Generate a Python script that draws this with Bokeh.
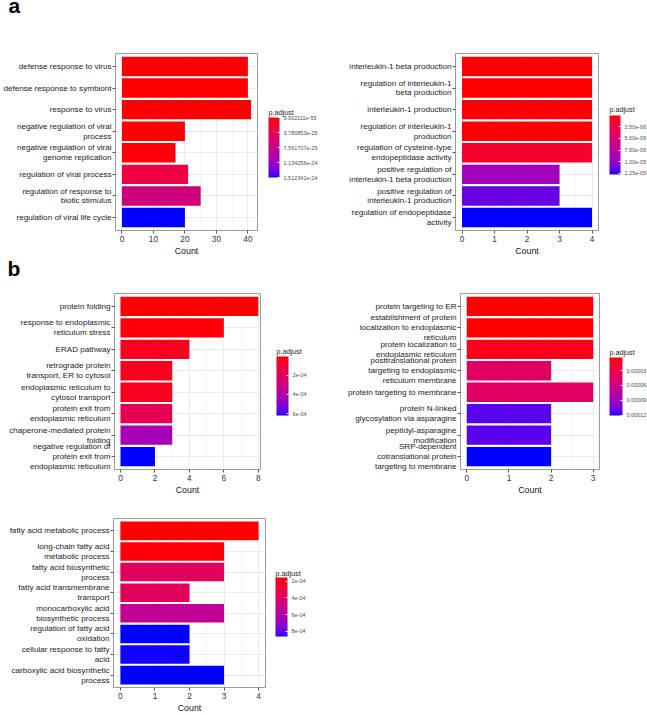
import numpy as np
from bokeh.plotting import figure
from bokeh.models import (ColumnDataSource, LinearColorMapper, ColorBar, FixedTicker,
                          Range1d, SingleIntervalTicker, AllLabels)
from bokeh.layouts import column, row
from bokeh.transform import transform
from bokeh.core.properties import value
from bokeh.embed import file_html
from bokeh.resources import INLINE

FONT = "Liberation Sans"

# ---------------------------------------------------------------- data
virus_terms = ["defense response to virus", "defense response to symbiont", "response to virus",
               "negative regulation of viral\nprocess", "negative regulation of viral\ngenome replication",
               "regulation of viral process", "regulation of response to\nbiotic stimulus",
               "regulation of viral life cycle"]
virus_count = [40, 40, 41, 20, 17, 21, 25, 20]
virus_padj = [9.002111e-55, 9.002111e-55, 2.1e-54, 5.2e-27, 1.9e-26, 3.0e-25, 6.8e-25, 1.512341e-24]
virus_breaks = [9.002111e-55, 3.780853e-25, 7.561707e-25, 1.134256e-24, 1.512341e-24]
virus_break_labels = ["9.002111e-55", "3.780853e-25", "7.561707e-25", "1.134256e-24", "1.512341e-24"]

il1_terms = ["interleukin-1 beta production", "regulation of interleukin-1\nbeta production",
             "interleukin-1 production", "regulation of interleukin-1\nproduction",
             "regulation of cysteine-type\nendopeptidase activity",
             "positive regulation of\ninterleukin-1 beta production",
             "positive regulation of\ninterleukin-1 production",
             "regulation of endopeptidase\nactivity"]
il1_count = [4, 4, 4, 4, 4, 3, 3, 4]
il1_padj = [3.2e-8, 3.2e-8, 1.1e-7, 1.1e-7, 1.55e-6, 9.2e-6, 1.15e-5, 1.28e-5]
il1_breaks = [2.5e-6, 5.0e-6, 7.5e-6, 1.0e-5, 1.25e-5]
il1_break_labels = ["2.50e-06", "5.00e-06", "7.50e-06", "1.00e-05", "1.25e-05"]

er_terms = ["protein folding", "response to endoplasmic\nreticulum stress", "ERAD pathway",
            "retrograde protein\ntransport, ER to cytosol", "endoplasmic reticulum to\ncytosol transport",
            "protein exit from\nendoplasmic reticulum", "chaperone-mediated protein\nfolding",
            "negative regulation of\nprotein exit from\nendoplasmic reticulum"]
er_count = [8, 6, 4, 3, 3, 3, 3, 2]
er_padj = [4.5e-6, 1.5e-5, 4.5e-5, 4.5e-5, 4.5e-5, 1.7e-4, 4.3e-4, 6.2e-4]
er_breaks = [2e-4, 4e-4, 6e-4]
er_break_labels = ["2e-04", "4e-04", "6e-04"]

target_terms = ["protein targeting to ER",
                "establishment of protein\nlocalization to endoplasmic\nreticulum",
                "protein localization to\nendoplasmic reticulum",
                "posttranslational protein\ntargeting to endoplasmic\nreticulum membrane",
                "protein targeting to membrane",
                "protein N-linked\nglycosylation via asparagine",
                "peptidyl-asparagine\nmodification",
                "SRP-dependent\ncotranslational protein\ntargeting to membrane"]
target_count = [3, 3, 3, 2, 3, 2, 2, 2]
target_padj = [3.7e-6, 3.7e-6, 9.5e-6, 4.2e-5, 4.2e-5, 1.12e-4, 1.12e-4, 1.205e-4]
target_breaks = [3e-5, 6e-5, 9e-5, 1.2e-4]
target_break_labels = ["0.00003", "0.00006", "0.00009", "0.00012"]

fatty_terms = ["fatty acid metabolic process", "long-chain fatty acid\nmetabolic process",
               "fatty acid biosynthetic\nprocess", "fatty acid transmembrane\ntransport",
               "monocarboxylic acid\nbiosynthetic process", "regulation of fatty acid\noxidation",
               "cellular response to fatty\nacid", "carboxylic acid biosynthetic\nprocess"]
fatty_count = [4, 3, 3, 2, 3, 2, 2, 3]
fatty_padj = [1.55e-4, 1.7e-4, 3.7e-4, 3.7e-4, 5.45e-4, 8.64e-4, 8.6e-4, 8.64e-4]
fatty_breaks = [2e-4, 4e-4, 6e-4, 8e-4]
fatty_break_labels = ["2e-04", "4e-04", "6e-04", "8e-04"]

# ---------------------------------------------------------------- red -> blue gradient in CIE Lab
_M = np.array([[0.4124564, 0.3575761, 0.1804375],
               [0.2126729, 0.7151522, 0.0721750],
               [0.0193339, 0.1191920, 0.9503041]])
_WHITE = np.array([0.95047, 1.0, 1.08883])


def hex_to_lab(h):
    rgb = np.array([int(h[i:i + 2], 16) for i in (1, 3, 5)]) / 255.0
    lin = np.where(rgb <= 0.04045, rgb / 12.92, ((rgb + 0.055) / 1.055) ** 2.4)
    t = (_M @ lin) / _WHITE
    d = 6 / 29
    f = np.where(t > d ** 3, np.cbrt(t), t / (3 * d * d) + 4 / 29)
    return np.array([116 * f[1] - 16, 500 * (f[0] - f[1]), 200 * (f[1] - f[2])])


def lab_to_hex(lab):
    L, a, b = lab
    fy = (L + 16) / 116
    f = np.array([fy + a / 500, fy, fy - b / 200])
    d = 6 / 29
    t = np.where(f > d, f ** 3, 3 * d * d * (f - 4 / 29))
    lin = np.clip(np.linalg.solve(_M, t * _WHITE), 0, 1)
    rgb = np.where(lin <= 0.0031308, 12.92 * lin, 1.055 * lin ** (1 / 2.4) - 0.055)
    return "#%02x%02x%02x" % tuple(int(round(v * 255)) for v in rgb)


_blue, _red = hex_to_lab("#0000ff"), hex_to_lab("#ff0000")
PALETTE = [lab_to_hex(_blue + (_red - _blue) * s) for s in np.linspace(0, 1, 256)]


def blank_canvas(width, height, top=0, bottom=0):
    """Axis-free figure; data coordinates equal canvas pixels (y grows downward)."""
    f = figure(width=width, height=height, output_backend="svg", toolbar_location=None,
               x_range=Range1d(0, width), y_range=Range1d(height - bottom, top),
               x_axis_location=None, y_axis_location=None, min_border=0,
               min_border_top=top, min_border_bottom=bottom, title=None)
    f.outline_line_color = None
    f.grid.visible = False
    f.background_fill_color = "white"
    f.border_fill_color = "white"
    return f


# ---------------------------------------------------------------- one enrichment bar panel
def enrich_panel(terms, counts, padj, breaks, break_labels, *, width, height, left, right, top,
                 bottom, x_start, x_end, x_step, leg_width, bar_x, bar_top, bar_w, bar_h,
                 title_base):
    n = len(terms)
    ys = list(range(n, 0, -1))
    negp = [-v for v in padj]
    src = ColumnDataSource(dict(y=ys, count=counts, negp=negp))
    # colour limits follow the data; negated so the low p-values sit at the top of the bar
    mapper = LinearColorMapper(palette=PALETTE, low=-max(padj), high=-min(padj))

    p = figure(width=width, height=height, output_backend="svg", toolbar_location=None,
               x_range=Range1d(x_start, x_end), y_range=Range1d(0.4, n + 0.6),
               min_border_left=left, min_border_right=right, min_border_top=top,
               min_border_bottom=bottom, title=None)
    p.hbar(y="y", left=0, right="count", height=0.9, source=src,
           fill_color=transform("negp", mapper), line_color=None)

    p.outline_line_color = "#9a9a9a"
    p.outline_line_width = 1
    p.background_fill_color = "white"
    p.border_fill_color = "white"

    p.xaxis.ticker = SingleIntervalTicker(interval=x_step, num_minor_ticks=2)
    p.yaxis.ticker = FixedTicker(ticks=ys, minor_ticks=[])
    p.yaxis.major_label_overrides = {y: t for y, t in zip(ys, terms)}

    for ax in (p.xaxis[0], p.yaxis[0]):
        ax.axis_line_color = None
        ax.major_tick_line_color = "#555555"
        ax.major_tick_out = 3
        ax.major_tick_in = 0
        ax.minor_tick_line_color = None
        ax.major_label_text_font = FONT
        ax.major_label_standoff = 1
    p.yaxis.major_label_text_font_size = "8.1px"
    p.yaxis.major_label_text_color = "#1a1a1a"
    p.yaxis.major_label_text_line_height = 1.1
    p.xaxis.major_label_text_font_size = "8.3px"
    p.xaxis.major_label_text_color = "#333333"
    p.xaxis.axis_label = "Count"
    p.xaxis.axis_label_text_font = FONT
    p.xaxis.axis_label_text_font_size = "8.8px"
    p.xaxis.axis_label_text_font_style = "normal"
    p.xaxis.axis_label_text_color = "#111111"
    p.xaxis.axis_label_standoff = 1

    p.xgrid.grid_line_color = "#ebebeb"
    p.xgrid.minor_grid_line_color = "#f0f0f0"
    p.xgrid.minor_grid_line_width = 0.7
    p.ygrid.grid_line_color = "#ebebeb"

    # colour legend beside the panel (same top/bottom borders, so both frames line up)
    leg = blank_canvas(leg_width, height, top, bottom)
    leg.text(x=[bar_x], y=[title_base], text=["p.adjust"], text_font=value(FONT),
             text_font_size="7.2px", text_color="#222222", text_baseline="alphabetic",
             text_align="left")
    cb = ColorBar(color_mapper=mapper,
                  ticker=FixedTicker(ticks=[-b for b in breaks], minor_ticks=[]),
                  major_label_overrides={-b: s for b, s in zip(breaks, break_labels)},
                  major_label_policy=AllLabels(),
                  width=bar_w, height=bar_h, padding=0, margin=0, title=None,
                  major_label_text_font=FONT, major_label_text_font_size="5.5px",
                  major_label_text_color="#4d4d4d", major_tick_line_color="white",
                  major_tick_in=2, major_tick_out=0, minor_tick_line_color=None,
                  bar_line_color=None, border_line_color=None, background_fill_color=None,
                  label_standoff=4,
                  location=(bar_x, (height - bottom) - (bar_top + bar_h)))
    leg.add_layout(cb, "center")
    return row(p, leg)


def tag_strip(text, width, height, x, baseline):
    s = blank_canvas(width, height)
    s.text(x=[x], y=[baseline], text=[text], text_font=value(FONT), text_font_size="21px",
           text_font_style="bold", text_color="black", text_baseline="alphabetic",
           text_align="left", text_line_height=1.0)
    return s


panel1 = enrich_panel(virus_terms, virus_count, virus_padj, virus_breaks, virus_break_labels,
                      width=260, height=223, left=112, right=3, top=18, bottom=27,
                      x_start=-2.05, x_end=43.05, x_step=10,
                      leg_width=60, bar_x=8, bar_top=83, bar_w=11, bar_h=60, title_base=77)
panel2 = enrich_panel(il1_terms, il1_count, il1_padj, il1_breaks, il1_break_labels,
                      width=280, height=223, left=135, right=2, top=18, bottom=27,
                      x_start=-0.2, x_end=4.2, x_step=1,
                      leg_width=47, bar_x=9, bar_top=81, bar_w=11, bar_h=59, title_base=74)
panel3 = enrich_panel(er_terms, er_count, er_padj, er_breaks, er_break_labels,
                      width=263, height=207, left=114, right=3, top=3, bottom=27,
                      x_start=-0.35, x_end=8.13, x_step=2,
                      leg_width=57, bar_x=13, bar_top=67, bar_w=12, bar_h=59, title_base=61)
panel4 = enrich_panel(target_terms, target_count, target_padj, target_breaks,
                      target_break_labels,
                      width=282, height=207, left=140, right=3, top=3, bottom=27,
                      x_start=-0.15, x_end=3.15, x_step=1,
                      leg_width=45, bar_x=7, bar_top=68, bar_w=13, bar_h=58, title_base=62)
panel5 = enrich_panel(fatty_terms, fatty_count, fatty_padj, fatty_breaks, fatty_break_labels,
                      width=267, height=218, left=113, right=2, top=21, bottom=23,
                      x_start=-0.2, x_end=4.2, x_step=1,
                      leg_width=53, bar_x=8, bar_top=85, bar_w=12, bar_h=59, title_base=78)

layout = column(tag_strip("a", 647, 35, 8, 5),
                row(panel1, panel2),
                tag_strip("b", 647, 32, 7, 10),
                row(panel3, panel4),
                row(panel5))
open("out.html", "w").write(file_html(layout, INLINE))
